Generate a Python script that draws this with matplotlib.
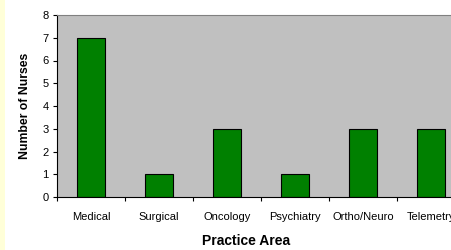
import matplotlib
matplotlib.use("Agg")
import matplotlib.pyplot as plt
import numpy as np

areas = ["Medical", "Surgical", "Oncology", "Psychiatry", "Ortho/Neuro", "Telemetry"]
nurses = [7, 1, 3, 1, 3, 3]

plt.rcParams['font.family'] = ['Liberation Sans', 'DejaVu Sans']

fig = plt.figure(figsize=(4.51, 2.5), dpi=100)
fig.patch.set_facecolor('white')
# thin yellow strip on the left edge
fig.patches.append(plt.Rectangle((0, 0), 5 / 451, 1, transform=fig.transFigure,
                                 facecolor='#FFFFD8', edgecolor='none', zorder=0))

# plot area runs past the right edge of the picture, as in the original
ax = fig.add_axes([57 / 451, 53 / 250, 408 / 451, 182 / 250])
ax.set_facecolor('#C0C0C0')

x = np.arange(len(areas))
ax.bar(x, nurses, width=0.41, color='#008000', edgecolor='black', linewidth=0.8, zorder=2)

ax.set_xlim(-0.5, len(areas) - 0.5)
ax.set_ylim(0, 8)
ax.set_yticks(range(0, 9))
ax.set_xticks(np.arange(-0.5, len(areas), 1.0))
ax.set_xticklabels([])
ax.set_xticks(x, minor=True)
ax.set_xticklabels(areas, minor=True, fontsize=8)
ax.tick_params(axis='x', which='minor', length=0, pad=11)
ax.tick_params(axis='x', which='major', length=3, width=0.8, direction='out')
ax.tick_params(axis='y', length=3, width=0.8, direction='out', labelsize=8, pad=3)

for s in ['left', 'bottom']:
    ax.spines[s].set_color('black')
    ax.spines[s].set_linewidth(0.8)
ax.spines['top'].set_color('#808080')
ax.spines['right'].set_visible(False)

ax.set_ylabel("Number of Nurses", fontsize=8.8, fontweight='bold', labelpad=8)
ax.set_xlabel("Practice Area", fontsize=10, fontweight='bold')
ax.xaxis.set_label_coords(0.463, -0.205, transform=ax.transAxes)
ax.xaxis.label.set_va('top')

fig.savefig("out.png", dpi=100)
